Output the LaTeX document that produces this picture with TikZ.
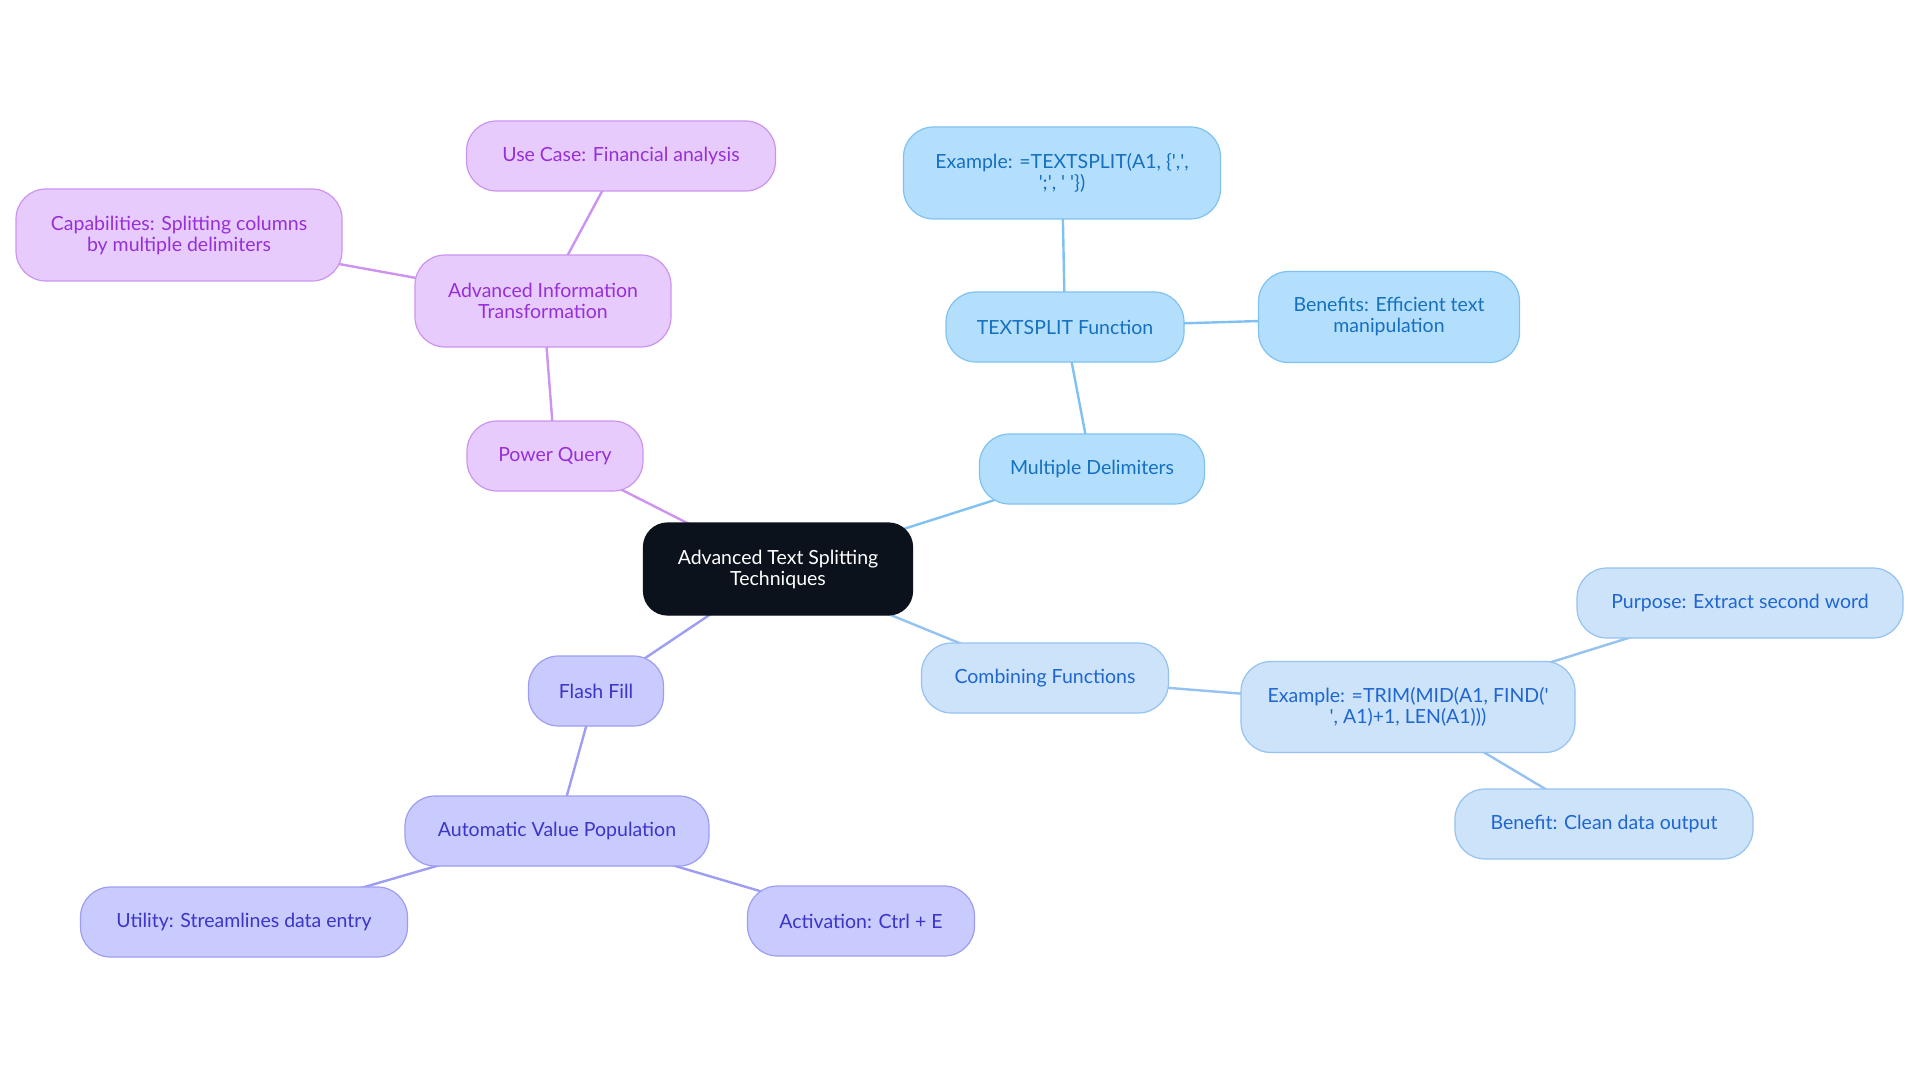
\documentclass[tikz,border=0pt]{standalone}
\usepackage{fontspec}
\setmainfont{Lato}
\usetikzlibrary{backgrounds}

\definecolor{rootfill}{HTML}{0B121C}
\definecolor{skyfill}{HTML}{B3DFFD}
\definecolor{skyline}{HTML}{7FC2F2}
\definecolor{skytext}{HTML}{1570C0}
\definecolor{palefill}{HTML}{CCE3FA}
\definecolor{paleline}{HTML}{95C2F0}
\definecolor{paletext}{HTML}{1F66D0}
\definecolor{lilacfill}{HTML}{E8CBFD}
\definecolor{lilacline}{HTML}{CC93F0}
\definecolor{lilactext}{HTML}{9630D6}
\definecolor{indigofill}{HTML}{C9CAFD}
\definecolor{indigoline}{HTML}{9D9EF3}
\definecolor{indigotext}{HTML}{3B35C8}

\begin{document}
\begin{tikzpicture}[x=1pt, y=-1pt,
        font=\fontsize{19.5}{21}\selectfont,
        box/.style={rectangle, rounded corners=30pt, line width=1.2pt,
            align=center, minimum height=70pt, inner sep=4pt},
        rootbox/.style={box, rounded corners=24pt, fill=rootfill, draw=rootfill, text=white},
        skybox/.style={box, fill=skyfill, draw=skyline, text=skytext},
        palebox/.style={box, fill=palefill, draw=paleline, text=paletext},
        lilacbox/.style={box, fill=lilacfill, draw=lilacline, text=lilactext},
        indigobox/.style={box, fill=indigofill, draw=indigoline, text=indigotext},
        link/.style={line width=2.4pt}]

        \useasboundingbox (0,0) rectangle (1920,1083);

        % Root
        \node[rootbox, minimum width=269pt, minimum height=92pt] (root) at (778,569)
            {Advanced Text Splitting\\Techniques};

        % Multiple delimiters branch
        \node[skybox, minimum width=225pt] (delims)    at (1092,469) {Multiple Delimiters};
        \node[skybox, minimum width=238pt] (textsplit) at (1065,327) {TEXTSPLIT Function};
        \node[skybox, minimum width=317pt, minimum height=92pt] (tsexample) at (1062,173)
            {Example: =TEXTSPLIT(A1, \{\textquotesingle,\textquotesingle,\\
             \textquotesingle;\textquotesingle, \textquotesingle\ \textquotesingle\})};
        \node[skybox, minimum width=261pt, minimum height=91pt] (tsbenefit) at (1389,317)
            {Benefits: Efficient text\\manipulation};

        % Combining functions branch
        \node[palebox, minimum width=247pt] (combine) at (1045,678) {Combining Functions};
        \node[palebox, minimum width=334pt, minimum height=91pt] (trim) at (1408,707)
            {Example: =TRIM(MID(A1, FIND(\textquotesingle\\
             \textquotesingle, A1)+1, LEN(A1)))};
        \node[palebox, minimum width=326pt] (purpose) at (1740,603) {Purpose: Extract second word};
        \node[palebox, minimum width=298pt] (clean)   at (1604,824) {Benefit: Clean data output};

        % Power Query branch
        \node[lilacbox, minimum width=176pt] (pq) at (555,456) {Power Query};
        \node[lilacbox, minimum width=256pt, minimum height=92pt] (ait) at (543,301)
            {Advanced Information\\Transformation};
        \node[lilacbox, minimum width=309pt] (usecase) at (621,156) {Use Case: Financial analysis};
        \node[lilacbox, minimum width=326pt, minimum height=92pt] (capab) at (179,235)
            {Capabilities: Splitting columns\\by multiple delimiters};

        % Flash Fill branch
        \node[indigobox, minimum width=135pt] (flash)   at (596,691) {Flash Fill};
        \node[indigobox, minimum width=304pt] (avp)     at (557,831) {Automatic Value Population};
        \node[indigobox, minimum width=327pt] (utility) at (244,922) {Utility: Streamlines data entry};
        \node[indigobox, minimum width=227pt] (activ)   at (861,921) {Activation: Ctrl + E};

        % Links
        \begin{scope}[on background layer]
            \draw[link, skyline] (root.center) -- (delims.center);
            \draw[link, skyline] (delims.center) -- (textsplit.center);
            \draw[link, skyline] (textsplit.center) -- (tsexample.center);
            \draw[link, skyline] (textsplit.center) -- (tsbenefit.center);

            \draw[link, paleline] (root.center) -- (combine.center);
            \draw[link, paleline] (combine.center) -- (trim.center);
            \draw[link, paleline] (trim.center) -- (purpose.center);
            \draw[link, paleline] (trim.center) -- (clean.center);

            \draw[link, lilacline] (root.center) -- (pq.center);
            \draw[link, lilacline] (pq.center) -- (ait.center);
            \draw[link, lilacline] (ait.center) -- (usecase.center);
            \draw[link, lilacline] (ait.center) -- (capab.center);

            \draw[link, indigoline] (root.center) -- (flash.center);
            \draw[link, indigoline] (flash.center) -- (avp.center);
            \draw[link, indigoline] (avp.center) -- (utility.center);
            \draw[link, indigoline] (avp.center) -- (activ.center);
        \end{scope}

    \end{tikzpicture}
\end{document}
